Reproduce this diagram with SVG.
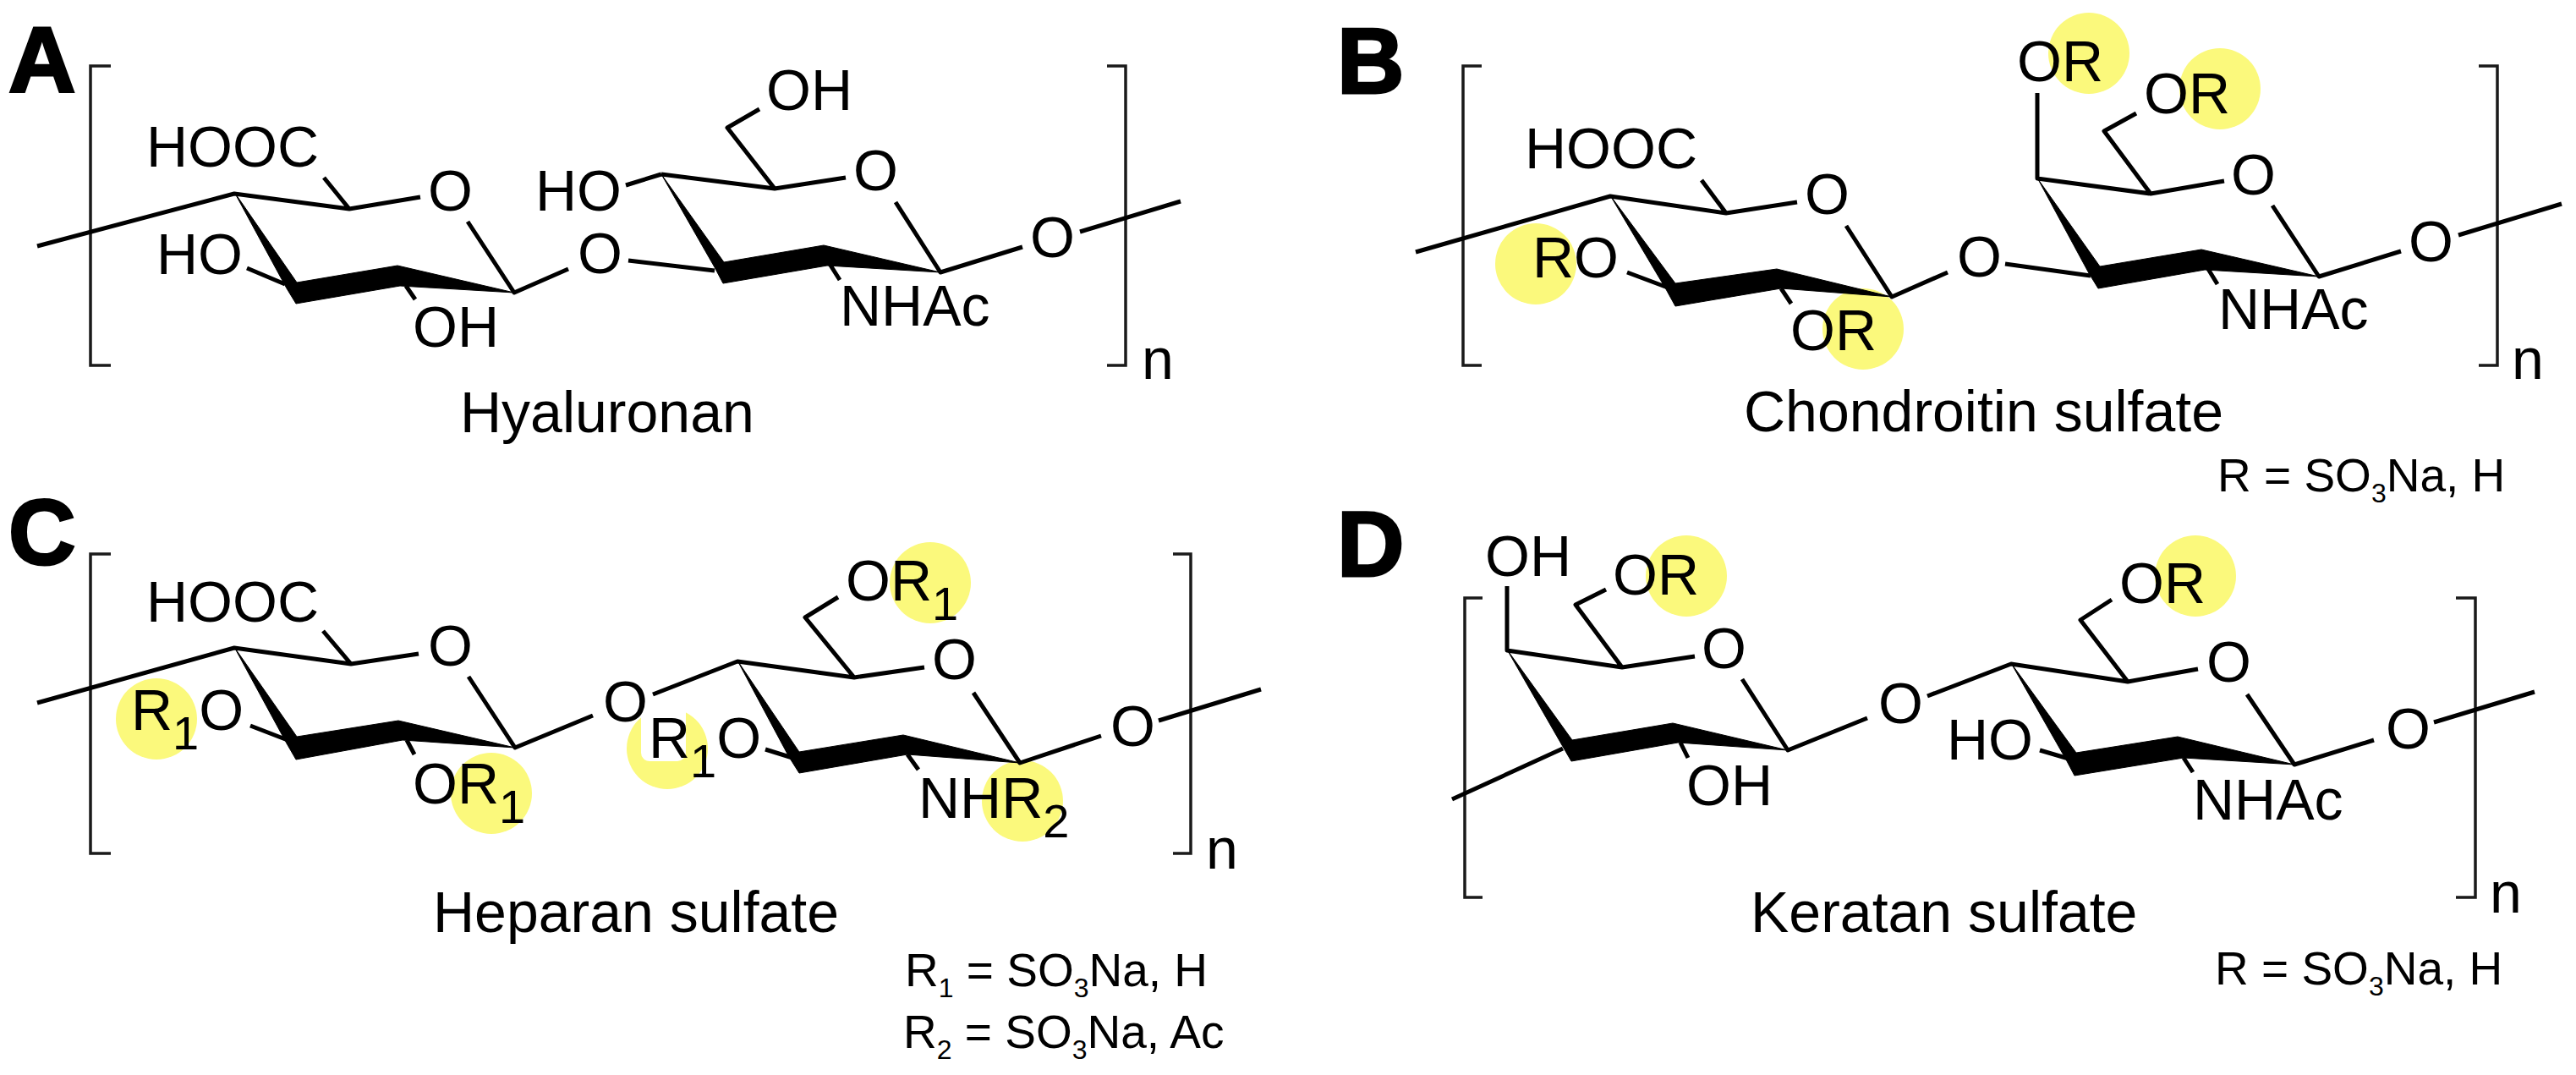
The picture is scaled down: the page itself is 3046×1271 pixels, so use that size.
<svg xmlns="http://www.w3.org/2000/svg" width="3046" height="1271" viewBox="0 0 3046 1271">
<style>
text{font-family:"Liberation Sans",Arial,sans-serif;fill:#000}
.t{font-size:68px}
.s{font-size:55px}
.b{font-size:110px;font-weight:700;stroke:#000;stroke-width:3px}
.sub{font-size:56px}
.sub2{font-size:32px}
.bond{fill:none;stroke:#000;stroke-width:5;stroke-linejoin:round;stroke-linecap:butt}
.br{fill:none;stroke:#1a1a1a;stroke-width:3.5}
.w{fill:#000;stroke:#000;stroke-width:1;stroke-linejoin:round}
.hl{fill:#fbf97c}
</style>
<rect width="3046" height="1271" fill="#fff"/>
<g id="panel-a">
<path class="br" d="M131 78H107V432H131M1309 78H1331V432H1309"/>
<path class="bond" d="M44 291L277 229L413 247L497 233M383 210L413 247M553 262L608 346L672 318M292 317L337 336M480 338L491 354M743 308L845 320M782 206L916 223L1000 210M916 223L860 151L898 129M782 206L740 219M981 312L993 331M1059 239L1112 322L1209 292M1277 274L1396 238"/>
<path class="w" d="M277 227L351 334L470 314L608 346L473 338L350 359L339 341ZM782 206L856 310L974 290L1112 322L978 314L855 335L845 316Z"/>
<text class="b" x="10" y="108">A</text>
<text class="t" x="173" y="197">HOOC</text>
<text class="t" x="506" y="249">O</text>
<text class="t" x="633" y="249">HO</text>
<text class="t" x="185" y="324">HO</text>
<text class="t" x="683" y="323">O</text>
<text class="t" x="488" y="410">OH</text>
<text class="t" x="1009" y="225">O</text>
<text class="t" x="906" y="130">OH</text>
<text class="t" x="993" y="385">NHAc</text>
<text class="t" x="1218" y="304">O</text>
<text class="t" x="1350" y="448">n</text>
<text class="t" x="544" y="511">Hyaluronan</text>
</g>
<g id="panel-b">
<circle class="hl" cx="2470" cy="63" r="48"/><circle class="hl" cx="2625" cy="105" r="48"/><circle class="hl" cx="1816" cy="312" r="48"/><circle class="hl" cx="2203" cy="389" r="48"/>
<path class="br" d="M1752 78H1730V432H1752M2931 78H2953V432H2931"/>
<path class="bond" d="M1674 298L1904 232L2041 252L2125 239M2012 213L2041 252M2183 267L2237 351L2303 322M1924 322L1972 340M2106 341L2118 359M2371 312L2472 326M2409 110V211L2543 229L2630 214M2543 229L2488 155L2526 134M2611 318L2622 336M2687 243L2742 327L2839 297M2907 278L3029 241"/>
<path class="w" d="M1904 231L1981 335L2101 318L2237 351L2106 341L1981 362L1970 342ZM2410 212L2483 315L2603 295L2742 327L2607 319L2481 341L2470 323Z"/>
<text class="b" x="1581" y="110">B</text>
<text class="t" x="1803" y="199">HOOC</text>
<text class="t" x="2134" y="253">O</text>
<text class="t" x="1812" y="328">RO</text>
<text class="t" x="2117" y="414">OR</text>
<text class="t" x="2314" y="327">O</text>
<text class="t" x="2385" y="96">OR</text>
<text class="t" x="2535" y="134">OR</text>
<text class="t" x="2638" y="230">O</text>
<text class="t" x="2623" y="389">NHAc</text>
<text class="t" x="2848" y="309">O</text>
<text class="t" x="2970" y="448">n</text>
<text class="t" x="2062" y="510">Chondroitin sulfate</text>
<text class="s" x="2622" y="581">R = SO<tspan class="sub2" dy="13">3</tspan><tspan dy="-13">Na, H</tspan></text>
</g>
<g id="panel-c">
<circle class="hl" cx="1100" cy="689" r="48"/><circle class="hl" cx="185" cy="850" r="48"/><circle class="hl" cx="581" cy="938" r="48"/><circle class="hl" cx="789" cy="885" r="48"/><circle class="hl" cx="1209" cy="947" r="48"/>
<rect x="758" y="832" width="53" height="68" rx="10" fill="#fff"/>
<path class="br" d="M131 655H107V1009H131M1387 655H1408V1009H1387"/>
<path class="bond" d="M44 831L277 766L415 785L495 773M382 746L415 785M554 800L609 884L701 846M296 858L340 875M481 875L490 892M772 821L872 782L1010 801L1093 789M1010 801L952 730L991 706M1151 819L1206 902L1302 870M1073 892L1086 910M905 886L937 896M1370 852L1491 815"/>
<path class="w" d="M277 765L351 871L471 852L609 884L476 875L350 898L339 879ZM872 781L945 889L1068 869L1206 902L1073 892L945 914L933 895Z"/>
<text class="b" x="10" y="667">C</text>
<text class="t" x="173" y="735">HOOC</text>
<text class="t" x="506" y="787">O</text>
<text class="t" x="155" y="863">R<tspan class="sub" dy="23">1</tspan><tspan dy="-23">O</tspan></text>
<text class="t" x="488" y="950">OR<tspan class="sub" dy="23">1</tspan></text>
<text class="t" x="713" y="853">O</text>
<text class="t" x="767" y="896">R<tspan class="sub" dy="23">1</tspan><tspan dy="-23">O</tspan></text>
<text class="t" x="1000" y="710">OR<tspan class="sub" dy="23">1</tspan></text>
<text class="t" x="1102" y="803">O</text>
<text class="t" x="1086" y="967">NHR<tspan class="sub" dy="23">2</tspan></text>
<text class="t" x="1313" y="882">O</text>
<text class="t" x="1426" y="1027">n</text>
<text class="t" x="512" y="1102">Heparan sulfate</text>
<text class="s" x="1070" y="1166">R<tspan class="sub2" dy="13">1</tspan><tspan dy="-13"> = SO</tspan><tspan class="sub2" dy="13">3</tspan><tspan dy="-13">Na, H</tspan></text>
<text class="s" x="1068" y="1239">R<tspan class="sub2" dy="13">2</tspan><tspan dy="-13"> = SO</tspan><tspan class="sub2" dy="13">3</tspan><tspan dy="-13">Na, Ac</tspan></text>
</g>
<g id="panel-d">
<circle class="hl" cx="1994" cy="681" r="48"/><circle class="hl" cx="2596" cy="681" r="48"/>
<path class="br" d="M1753 707H1732V1061H1753M2904 707H2927V1061H2904"/>
<path class="bond" d="M1717 945L1848 885M1782 693V769L1918 789L2004 776M1918 789L1863 715L1899 697M2060 803L2114 887L2208 849M1987 878L1996 896M2279 823L2378 785L2516 806L2599 791M2516 806L2460 733L2497 709M2657 821L2713 904L2807 875M2582 896L2593 913M2412 887L2446 897M2878 854L2997 818"/>
<path class="w" d="M1782 768L1859 875L1978 855L2114 887L1984 878L1858 900L1847 881ZM2378 784L2455 890L2575 871L2713 904L2582 896L2453 917L2443 898Z"/>
<text class="b" x="1581" y="681">D</text>
<text class="t" x="1756" y="681">OH</text>
<text class="t" x="1907" y="703">OR</text>
<text class="t" x="2012" y="790">O</text>
<text class="t" x="2221" y="855">O</text>
<text class="t" x="1994" y="952">OH</text>
<text class="t" x="2506" y="713">OR</text>
<text class="t" x="2609" y="806">O</text>
<text class="t" x="2302" y="898">HO</text>
<text class="t" x="2593" y="969">NHAc</text>
<text class="t" x="2821" y="885">O</text>
<text class="t" x="2944" y="1079">n</text>
<text class="t" x="2070" y="1102">Keratan sulfate</text>
<text class="s" x="2619" y="1164">R = SO<tspan class="sub2" dy="13">3</tspan><tspan dy="-13">Na, H</tspan></text>
</g>
</svg>
